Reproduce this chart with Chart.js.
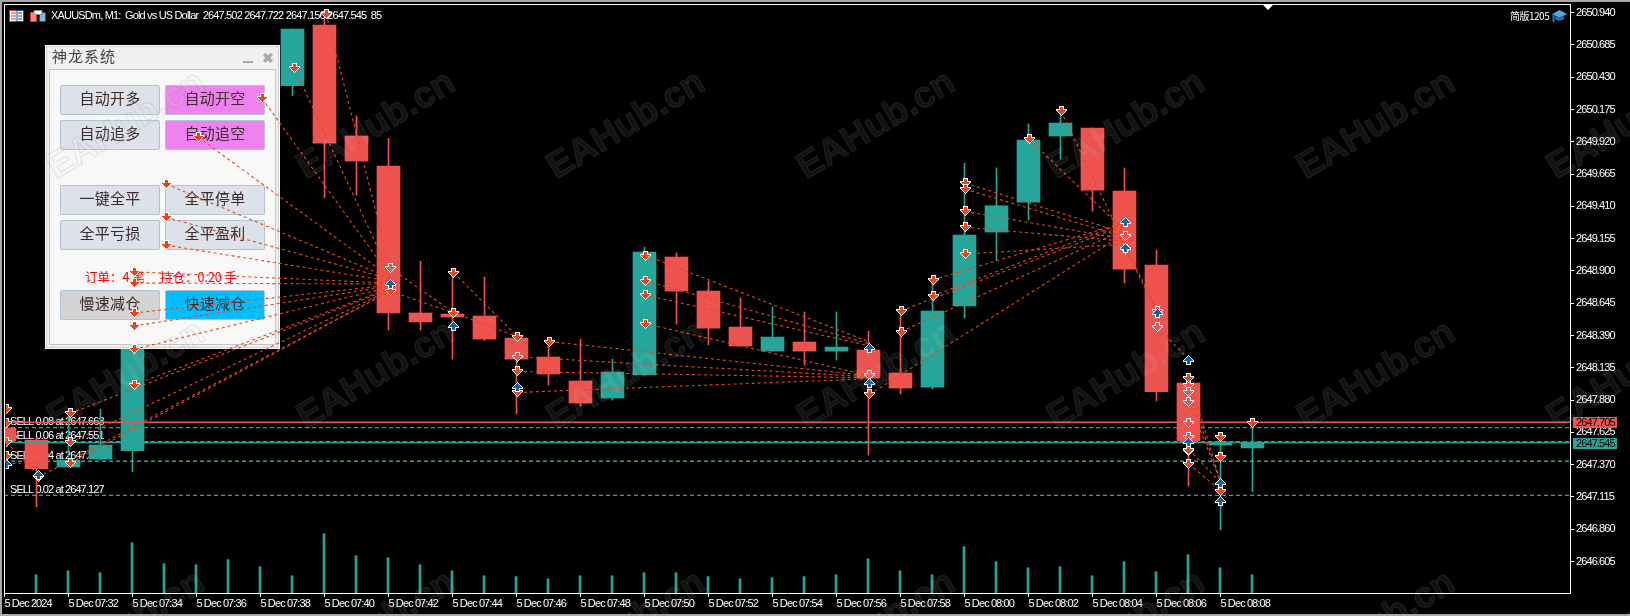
<!DOCTYPE html>
<html><head><meta charset="utf-8">
<script src="https://cdn.jsdelivr.net/npm/chart.js@4/dist/chart.umd.min.js"></script>
<style>
html,body{margin:0;padding:0;background:#a8a8a8;width:1630px;height:616px;overflow:hidden}
#stage{position:absolute;left:2px;top:2px;width:1628px;height:612px;background:#000}
canvas{position:absolute;left:0;top:0}
#base{z-index:1}#over{z-index:3}
.lay{position:absolute;left:0;top:0;width:1630px;height:616px;overflow:hidden}
#ui{z-index:2}#wm{z-index:4;pointer-events:none}
#wm span{position:absolute;font:bold 37px "Liberation Sans",sans-serif;color:rgba(255,255,255,.07);-webkit-text-stroke:1px rgba(125,125,125,.2);transform-origin:0 100%;transform:rotate(-31deg);white-space:nowrap;line-height:37px}
#title{position:absolute;left:51px;top:8px;color:#fff;font:11px "Liberation Sans",sans-serif;letter-spacing:-.83px;white-space:pre;line-height:14px}
#ver{position:absolute;left:1510px;top:9px;color:#fff;font:10px "Noto Sans CJK SC",sans-serif;letter-spacing:-.5px;line-height:14px}
#tri{position:absolute;left:1263px;top:5px;width:0;height:0;border-left:5px solid transparent;border-right:5px solid transparent;border-top:5px solid #fff}
svg{position:absolute}
#panel{position:absolute;left:45px;top:45px;width:233px;height:302px;background:#f0f0f0;border:1px solid #fff;outline:1px solid #d0d0d0;outline-offset:-2px;font-family:"Noto Sans CJK SC",sans-serif}
#ptitle{position:absolute;left:6px;top:-1px;font-size:15px;letter-spacing:1px;color:#444;line-height:22px}
#pin{position:absolute;left:3px;top:23px;width:225px;height:274px;background:#f8f8f8;border:1px solid #c4c4c4}
.min{position:absolute;left:197px;top:15px;width:10px;height:2px;background:#aaa}
.cls{position:absolute;left:216px;top:3px;font:bold 14px "Liberation Sans",sans-serif;color:#aaa;line-height:18px}
.b{position:absolute;width:98px;height:28px;border:1px solid #b0c4d6;border-radius:2px;background:#dde2ea;color:#3a2a2a;font-size:15px;letter-spacing:.3px;line-height:24px;text-align:center;box-sizing:content-box}
.m{background:#ee82ee}.g{background:#d3d3d3}.c{background:#00bfff}
.r{position:absolute;color:#f00;font-size:12.5px;line-height:16px;white-space:nowrap}
</style></head><body>
<div id="stage"></div>
<canvas id="base" width="1630" height="616"></canvas>
<div id="ui" class="lay">
 <svg style="left:9px;top:10px" width="15" height="12"><rect x=".5" y=".5" width="14" height="11" fill="#fff" stroke="#d33"/><rect x="8" y=".5" width="6.5" height="11" fill="#fff" stroke="#0a5ca8"/><path d="M2 3h5M2 6h5M2 9h5" stroke="#d33"/><path d="M9 3h4M9 6h4M9 9h4" stroke="#0a5ca8"/></svg>
 <svg style="left:30px;top:10px" width="16" height="12"><path d="M.5 2.5h6v9h-6z" fill="#f88" stroke="#d33"/><path d="M9.5 2.5h6v9h-6z" fill="#7bd" stroke="#0a5ca8"/><path d="M4 .5h8v4h-8z" fill="#fff" stroke="#888"/></svg>
 <div id="title">XAUUSDm, M1:  Gold vs US Dollar  2647.502 2647.722 2647.156 2647.545  85</div>
 <div id="ver">简版1205</div>
 <svg style="left:1552px;top:9px" width="15" height="14"><path d="M7.5 1L15 5 7.5 9 0 5z" fill="#4aa8e8"/><path d="M3 7v3q4.500 3 9 0V7L7.500 9.500z" fill="#1f78c8"/><path d="M1.500 5v8" stroke="#1f78c8" stroke-width="2"/></svg>
 <div id="tri"></div>
 <div id="panel">
  <div id="ptitle">神龙系统</div><div class="min"></div><div class="cls">✖</div>
  <div id="pin"></div>
  <div class="b" style="left:14px;top:39px">自动开多</div><div class="b m" style="left:119px;top:39px">自动开空</div>
  <div class="b" style="left:14px;top:74px">自动追多</div><div class="b m" style="left:119px;top:74px">自动追空</div>
  <div class="b" style="left:14px;top:139px">一键全平</div><div class="b" style="left:119px;top:139px">全平停单</div>
  <div class="b" style="left:14px;top:174px">全平亏损</div><div class="b" style="left:119px;top:174px">全平盈利</div>
  <div class="r" style="left:39px;top:223px">订单：4 笔</div><div class="r" style="left:114px;top:223px">持仓：0.20 手</div>
  <div class="b g" style="left:14px;top:244px">慢速减仓</div><div class="b c" style="left:119px;top:244px">快速减仓</div>
 </div>
</div>
<canvas id="over" width="1630" height="616"></canvas>
<div id="wm" class="lay"></div>
<script>
const timeLabels=["5 Dec 2024","5 Dec 07:32","5 Dec 07:34","5 Dec 07:36","5 Dec 07:38","5 Dec 07:40","5 Dec 07:42","5 Dec 07:44","5 Dec 07:46","5 Dec 07:48","5 Dec 07:50","5 Dec 07:52","5 Dec 07:54","5 Dec 07:56","5 Dec 07:58","5 Dec 08:00","5 Dec 08:02","5 Dec 08:04","5 Dec 08:06","5 Dec 08:08"];
const priceTicks=[2650.940,2650.685,2650.430,2650.175,2649.920,2649.665,2649.410,2649.155,2648.900,2648.645,2648.390,2648.135,2647.880,2647.625,2647.370,2647.115,2646.860,2646.605];
const opens =[2647.659,2647.564,2647.351,2647.414,2647.480,2648.670,2648.950,2649.450,2649.200,2650.363,2650.843,2649.966,2649.729,2648.568,2648.560,2648.544,2648.370,2648.220,2648.031,2647.896,2648.078,2649.010,2648.741,2648.457,2648.267,2648.339,2648.267,2648.275,2648.094,2647.983,2648.623,2649.207,2649.444,2649.966,2650.029,2649.531,2648.947,2648.015,2647.525,2647.502];
const highs =[2647.691,2647.580,2647.794,2647.809,2648.710,2649.050,2649.550,2649.600,2650.100,2650.811,2650.961,2650.124,2649.948,2648.978,2648.894,2648.852,2648.410,2648.354,2648.362,2648.204,2649.089,2649.042,2648.820,2648.686,2648.617,2648.576,2648.576,2648.425,2648.568,2648.805,2649.752,2649.713,2650.061,2650.171,2650.029,2649.713,2649.065,2648.015,2647.591,2647.722];
const lows  =[2647.557,2647.038,2647.351,2647.406,2647.314,2648.550,2648.850,2649.100,2649.100,2650.284,2649.478,2649.500,2648.433,2648.433,2648.204,2648.349,2647.775,2647.999,2647.833,2647.880,2648.078,2648.481,2648.315,2648.307,2648.267,2648.157,2648.196,2647.446,2647.928,2647.967,2648.528,2648.981,2649.302,2649.784,2649.373,2648.805,2647.873,2647.201,2646.854,2647.156];
const closes=[2647.557,2647.338,2647.406,2647.525,2648.670,2648.950,2649.450,2649.200,2650.000,2650.811,2649.910,2649.768,2648.568,2648.497,2648.536,2648.362,2648.204,2648.086,2647.857,2648.102,2649.049,2648.741,2648.449,2648.307,2648.378,2648.267,2648.299,2648.054,2647.975,2648.583,2649.184,2649.415,2649.934,2650.068,2649.539,2648.915,2647.946,2647.557,2647.549,2647.545];
const volumes=[null,85,103,94,233,136,131,155,122,80,275,173,164,131,103,80,76,66,80,80,94,94,76,66,71,76,85,159,103,85,215,145,117,122,80,145,99,178,117,85];
const orderLabels=["SELL 0.08 at 2647.663","SELL 0.06 at 2647.551","SELL 0.04 at 2647.397","SELL 0.02 at 2647.127"];
const orderPrices=[2647.663,2647.551,2647.397,2647.127];
const bidPrice=2647.545, askPrice=2647.705;
const sellBars  =[0,0,0,0,1,2,2,2,4,4,4,4,4,4,5,5,5,6,8,9,10,12,14,14,16,16,16,17,20,20,20,20,27,28,28,29,29,30,30,30,30,30,32,33,36,37,37,37,38,38,38,39];
const sellPrices=[2647.815,2647.704,2647.551,2647.446,2647.275,2647.780,2647.551,2647.388,2648.902,2648.813,2648.576,2648.473,2648.289,2648.007,2649.597,2649.334,2649.113,2649.968,2650.276,2650.521,2650.948,2648.749,2648.894,2648.576,2648.386,2648.112,2647.946,2648.349,2649.031,2648.831,2648.718,2648.491,2647.930,2648.594,2648.428,2648.839,2648.712,2649.605,2649.557,2649.381,2649.255,2649.042,2649.952,2650.173,2648.591,2648.057,2647.493,2647.380,2647.591,2647.433,2647.164,2647.701];
const exitBars  =[12,16,27,35,35,36,37,37,37,37,37,37];
const exitPrices=[2648.933,2648.228,2648.083,2649.184,2649.081,2648.467,2648.007,2647.952,2647.867,2647.704,2647.591,2647.478];
const buyBars   =[0,1,12,14,16,27,27,35,35,36,37,37,38,38];
const buyPrices =[2647.380,2647.294,2648.807,2648.473,2647.991,2648.299,2648.020,2649.294,2649.089,2648.573,2648.204,2647.551,2647.230,2647.083];
const tradeFromBar  =[10,9,8,6,5,5,5,4,4,4,4,4,4,2,2,2,1,0,0,12,12,14,14,17,16,16,16,20,20,20,20,27,28,28,29,29,30,30,30,30,30,32,33,35,36,37,37,37,37,37];
const tradeFromPrice=[2650.948,2650.521,2650.276,2649.968,2649.597,2649.334,2649.113,2648.902,2648.813,2648.576,2648.473,2648.289,2648.007,2647.780,2647.551,2647.388,2647.275,2647.551,2647.380,2648.933,2648.749,2648.894,2648.576,2648.349,2648.228,2648.112,2647.946,2649.031,2648.831,2648.718,2648.491,2647.930,2648.428,2648.594,2648.712,2648.839,2649.605,2649.557,2649.381,2649.255,2649.042,2649.952,2650.173,2649.081,2648.467,2647.952,2647.867,2647.493,2647.380,2648.057];
const tradeToBar    =[12,12,12,12,12,12,12,12,12,12,12,12,12,12,12,12,12,1,1,14,14,16,16,27,27,27,27,27,27,27,27,35,35,35,35,35,35,35,35,35,35,35,36,36,37,38,38,38,38,38];
const tradeToPrice  =[2648.933,2648.884,2648.868,2648.860,2648.852,2648.844,2648.828,2648.813,2648.805,2648.797,2648.789,2648.781,2648.773,2648.765,2648.757,2648.749,2648.749,2647.294,2647.390,2648.576,2648.576,2648.386,2648.386,2648.078,2648.070,2648.062,2648.054,2648.346,2648.331,2648.315,2648.078,2649.207,2649.239,2649.271,2649.294,2649.294,2649.207,2649.176,2649.160,2649.144,2649.121,2649.223,2648.591,2648.591,2648.204,2647.230,2647.230,2647.230,2647.164,2647.230];

const UP='#26a69a',DN='#ef5350',TRADE='#ee4418',BLUE='#0f62ae';
const TICKFONT={family:'"Liberation Sans",sans-serif',size:11};
const FONT='11px "Liberation Sans",sans-serif';
const XMIN=-1/64, XMAX=1565.5/32, YMIN=2646.3563, YMAX=2651.0087;
const bars=opens.map((_,i)=>i);
const colors=bars.map(i=>closes[i]>=opens[i]?UP:DN);

const OUTER_ROWS=[5,5,5,11,11,9,7,5,3,1];
const INNER_ROWS=[0,3,3,3,9,7,5,3,1,0];
function arrow(fill,up){
  const c=document.createElement('canvas');c.width=11;c.height=10;
  const x=c.getContext('2d');
  const rows=(r,f)=>{x.fillStyle=f;r.forEach((w,k)=>{if(w)x.fillRect((11-w)/2,up?9-k:k,w,1);});};
  rows(OUTER_ROWS,'#fff');rows(INNER_ROWS,fill);
  return c;
}

const framePlugin={id:'frame',
 beforeDraw(ch){ch.ctx.letterSpacing='-0.9px';},
 beforeDatasetsDraw(ch){
  const {ctx,scales:{y}}=ch;ctx.save();ctx.font=FONT;ctx.fillStyle='#fff';ctx.textBaseline='middle';
  orderLabels.forEach((t,k)=>ctx.fillText(t,10,y.getPixelForValue(orderPrices[k])-5.7));ctx.restore();
 },
 afterDraw(ch){
  const {ctx,scales:{y},chartArea:a}=ch;ctx.save();
  ctx.fillStyle='#fff';ctx.fillRect(a.left,a.top,a.right-a.left,1);ctx.fillRect(a.left,a.top,1,a.bottom-a.top);
  ctx.font=FONT;ctx.textBaseline='middle';
  [[askPrice,DN],[bidPrice,UP]].forEach(([v,col])=>{
    const p=y.getPixelForValue(v);ctx.fillStyle=col;ctx.fillRect(1573,Math.round(p)-5,44,11);
    ctx.fillStyle='#000';ctx.fillText(v.toFixed(3),1576,Math.round(p)+.5);
  });ctx.restore();
 }};
const crispPlugin={id:'crisp',beforeDraw(ch){ch.ctx.imageSmoothingEnabled=false;}};

const hline=(v,col,dash,order)=>({type:'line',data:[{x:XMIN,y:v},{x:XMAX,y:v}],borderColor:col,borderWidth:1.3,borderDash:dash,pointRadius:0,order,yAxisID:'y',xAxisID:'x'});
const noPad=s=>{s.paddingTop=s.paddingBottom=s.paddingLeft=s.paddingRight=0;};

new Chart(document.getElementById('base'),{
 type:'bar',
 data:{datasets:[
  ...orderPrices.map(v=>hline(v,UP,[4,3],9)),
  {label:'wick',data:bars.map(i=>({x:i,y:[lows[i],highs[i]]})),backgroundColor:colors,barThickness:1,grouped:false,order:6,xAxisID:'x',yAxisID:'y'},
  {label:'body',data:bars.map(i=>({x:i,y:[opens[i],closes[i]]})),backgroundColor:colors,barThickness:23,grouped:false,order:5,xAxisID:'x',yAxisID:'y'},
  {label:'vol',data:bars.map(i=>({x:i,y:volumes[i]})),backgroundColor:UP,barThickness:2,grouped:false,order:4,xAxisID:'xv',yAxisID:'vol'},
  hline(askPrice,DN,[],2),hline(bidPrice,UP,[],2)
 ]},
 options:{responsive:false,animation:false,devicePixelRatio:1,events:[],
  layout:{padding:{left:4,top:4,right:0,bottom:0}},
  plugins:{legend:{display:false},tooltip:{enabled:false},title:{display:false}},
  scales:{
   x:{type:'linear',min:XMIN,max:XMAX,position:'bottom',offset:false,
      afterFit(s){s.height=23;noPad(s);},
      afterBuildTicks(s){s.ticks=timeLabels.map((_,k)=>({value:k*2}));},
      grid:{offset:false,drawOnChartArea:false,drawTicks:true,tickLength:4,color:'#fff',tickColor:'#fff',tickWidth:1},
      border:{color:'#fff',width:1},
      ticks:{color:'#fff',font:TICKFONT,align:'start',padding:0,autoSkip:false,maxRotation:0,minRotation:0,callback:(v)=>timeLabels[v/2]}},
   xv:{axis:'x',type:'linear',min:0,max:XMAX+1/64,offset:false,grid:{offset:false},display:false},
   y:{position:'right',min:YMIN,max:YMAX,
      afterFit(s){s.width=60;noPad(s);},
      afterBuildTicks(s){s.ticks=priceTicks.map(v=>({value:v}));},
      grid:{drawOnChartArea:false,drawTicks:true,tickLength:4,color:'#fff',tickColor:'#fff'},
      border:{color:'#fff',width:1},
      ticks:{color:'#fff',font:TICKFONT,padding:2,autoSkip:false,callback:v=>Number(v).toFixed(3)}},
   vol:{axis:'y',min:0,max:2733,display:false}
  }},
 plugins:[framePlugin]
});

const tradeSets=tradeFromBar.map((b,k)=>({type:'line',data:[{x:b,y:tradeFromPrice[k]},{x:tradeToBar[k],y:tradeToPrice[k]}],borderColor:TRADE,borderWidth:1.1,borderDash:[3,3],pointRadius:0,order:5}));
const marks=(bs,ps,style,order)=>({type:'scatter',data:bs.map((b,k)=>({x:b,y:ps[k]})),pointStyle:style,pointRadius:5,order});
new Chart(document.getElementById('over'),{
 type:'scatter',
 data:{datasets:[...tradeSets,marks(exitBars,exitPrices,arrow(DN,false),3),marks(sellBars,sellPrices,arrow(TRADE,false),2),marks(buyBars,buyPrices,arrow(BLUE,true),1)]},
 options:{responsive:false,animation:false,devicePixelRatio:1,events:[],
  layout:{padding:{left:4,top:4,right:60,bottom:23}},
  plugins:{legend:{display:false},tooltip:{enabled:false}},
  scales:{x:{type:'linear',min:XMIN,max:XMAX,display:false},y:{min:YMIN,max:YMAX,display:false}}},
 plugins:[crispPlugin]
});

const wm=document.getElementById('wm');
for(let r=0;r<3;r++)for(let k=-1;k<7;k++){
  const s=document.createElement('span');s.textContent='EAHub.cn';
  s.style.left=(59+250*k)+'px';s.style.top=(148+250*r)+'px';wm.appendChild(s);
}
</script>
</body></html>
